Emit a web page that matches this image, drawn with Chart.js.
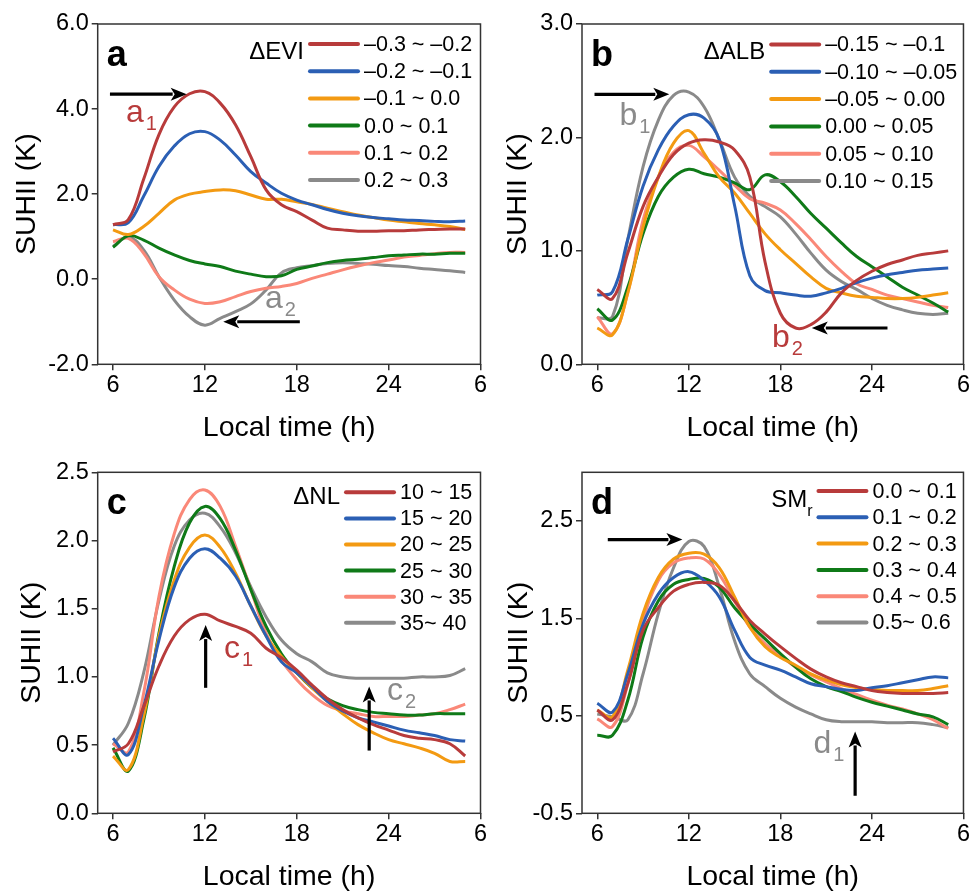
<!DOCTYPE html>
<html>
<head>
<meta charset="utf-8">
<script src="https://cdn.jsdelivr.net/npm/chart.js@4.4.0/dist/chart.umd.min.js"></script>
<style>
  html, body { margin: 0; padding: 0; background: #fff; overflow: hidden; }
  #wrap { position: relative; width: 971px; height: 892px; }
  canvas { position: absolute; }
</style>
</head>
<body>
<div id="wrap">
  <canvas id="pa" width="490" height="442" style="left:0;top:0"></canvas>
  <canvas id="pb" width="481" height="442" style="left:490px;top:0"></canvas>
  <canvas id="pc" width="490" height="448" style="left:0;top:443px"></canvas>
  <canvas id="pd" width="481" height="448" style="left:490px;top:443px"></canvas>
</div>
<script>
// local time, hourly from 6 h to 5 h next day
var hours = [6,7,8,9,10,11,12,13,14,15,16,17,18,19,20,21,22,23,24,25,26,27,28,29];
var xTicks = [6, 12, 18, 24, 30];
var xTickLabels = ['6', '12', '18', '24', '6'];

// a: ΔEVI
var eviLabels = ['–0.3 ~ –0.2', '–0.2 ~ –0.1', '–0.1 ~ 0.0', '0.0 ~ 0.1', '0.1 ~ 0.2', '0.2 ~ 0.3'];
var evi1 = [1.28, 1.40, 2.35, 3.40, 4.05, 4.36, 4.41, 4.14, 3.63, 2.88, 2.10, 1.75, 1.59, 1.39, 1.20, 1.16, 1.13, 1.13, 1.14, 1.14, 1.16, 1.17, 1.18, 1.18];
var evi2 = [1.28, 1.33, 1.95, 2.65, 3.13, 3.42, 3.47, 3.27, 2.92, 2.53, 2.26, 2.02, 1.86, 1.75, 1.64, 1.55, 1.49, 1.45, 1.42, 1.39, 1.38, 1.36, 1.35, 1.37];
var evi3 = [1.16, 1.05, 1.24, 1.55, 1.86, 2.00, 2.06, 2.10, 2.08, 1.98, 1.88, 1.88, 1.82, 1.76, 1.67, 1.59, 1.51, 1.45, 1.39, 1.35, 1.31, 1.28, 1.24, 1.17];
var evi4 = [0.75, 1.02, 0.92, 0.73, 0.57, 0.44, 0.36, 0.30, 0.19, 0.12, 0.06, 0.08, 0.23, 0.31, 0.39, 0.44, 0.47, 0.51, 0.55, 0.57, 0.59, 0.59, 0.61, 0.61];
var evi5 = [0.88, 0.96, 0.61, 0.06, -0.25, -0.47, -0.57, -0.53, -0.41, -0.29, -0.21, -0.17, -0.10, 0.02, 0.12, 0.22, 0.31, 0.39, 0.45, 0.52, 0.56, 0.60, 0.63, 0.63];
var evi6 = [0.77, 0.99, 0.69, 0.06, -0.49, -0.88, -1.08, -0.92, -0.76, -0.58, -0.25, 0.15, 0.27, 0.32, 0.37, 0.39, 0.37, 0.35, 0.32, 0.30, 0.26, 0.23, 0.20, 0.16];
var eviTicks = [-2, 0, 2, 4, 6];

// b: ΔALB
var albLabels = ['–0.15 ~ –0.1', '–0.10 ~ –0.05', '–0.05 ~ 0.00', '0.00 ~ 0.05', '0.05 ~ 0.10', '0.10 ~ 0.15'];
var alb1 = [0.66, 0.58, 0.98, 1.39, 1.65, 1.85, 1.95, 1.98, 1.96, 1.89, 1.65, 0.90, 0.45, 0.32, 0.35, 0.46, 0.63, 0.74, 0.82, 0.88, 0.92, 0.96, 0.98, 1.00];
var alb2 = [0.61, 0.64, 1.10, 1.57, 1.89, 2.10, 2.20, 2.17, 1.98, 1.40, 0.78, 0.65, 0.63, 0.61, 0.60, 0.63, 0.67, 0.72, 0.76, 0.79, 0.81, 0.83, 0.84, 0.85];
var alb3 = [0.32, 0.26, 0.63, 1.21, 1.65, 1.95, 2.06, 1.86, 1.65, 1.51, 1.33, 1.15, 1.01, 0.89, 0.77, 0.67, 0.63, 0.60, 0.59, 0.58, 0.58, 0.59, 0.61, 0.63];
var alb4 = [0.49, 0.39, 0.68, 1.15, 1.48, 1.65, 1.72, 1.68, 1.65, 1.60, 1.54, 1.67, 1.61, 1.48, 1.33, 1.20, 1.07, 0.95, 0.86, 0.77, 0.68, 0.61, 0.54, 0.46];
var alb5 = [0.42, 0.27, 0.63, 1.27, 1.65, 1.87, 1.93, 1.83, 1.71, 1.58, 1.46, 1.42, 1.36, 1.24, 1.10, 0.95, 0.82, 0.71, 0.66, 0.61, 0.58, 0.55, 0.52, 0.50];
var alb6 = [0.41, 0.42, 1.10, 1.74, 2.15, 2.37, 2.40, 2.27, 1.98, 1.65, 1.48, 1.39, 1.30, 1.15, 0.98, 0.83, 0.73, 0.66, 0.58, 0.52, 0.48, 0.45, 0.44, 0.45];
var albTicks = [0, 1, 2, 3];

// c: ΔNL
var nlLabels = ['10 ~ 15', '15 ~ 20', '20 ~ 25', '25 ~ 30', '30 ~ 35', '35~ 40'];
var nl1 = [0.45, 0.51, 0.78, 1.08, 1.30, 1.42, 1.46, 1.41, 1.37, 1.32, 1.21, 1.14, 1.05, 0.94, 0.84, 0.76, 0.70, 0.65, 0.61, 0.57, 0.55, 0.54, 0.51, 0.42];
var nl2 = [0.55, 0.43, 0.78, 1.27, 1.66, 1.87, 1.94, 1.87, 1.74, 1.52, 1.30, 1.11, 1.03, 0.93, 0.82, 0.75, 0.70, 0.67, 0.64, 0.61, 0.59, 0.57, 0.54, 0.53];
var nl3 = [0.42, 0.32, 0.71, 1.30, 1.71, 1.95, 2.04, 1.95, 1.76, 1.52, 1.30, 1.15, 1.03, 0.92, 0.82, 0.73, 0.65, 0.59, 0.54, 0.51, 0.48, 0.44, 0.38, 0.38];
var nl4 = [0.48, 0.31, 0.68, 1.32, 1.81, 2.13, 2.25, 2.16, 1.93, 1.64, 1.37, 1.17, 1.03, 0.92, 0.84, 0.79, 0.76, 0.74, 0.73, 0.72, 0.72, 0.73, 0.73, 0.73];
var nl5 = [0.51, 0.45, 0.88, 1.59, 2.05, 2.30, 2.37, 2.25, 1.96, 1.64, 1.32, 1.12, 0.98, 0.87, 0.79, 0.75, 0.73, 0.71, 0.71, 0.71, 0.72, 0.73, 0.76, 0.80];
var nl6 = [0.50, 0.66, 1.03, 1.56, 1.96, 2.15, 2.20, 2.10, 1.91, 1.66, 1.44, 1.27, 1.17, 1.11, 1.03, 1.00, 0.99, 0.99, 0.99, 0.99, 1.00, 1.00, 1.01, 1.06];
var nlTicks = [0, 0.5, 1, 1.5, 2, 2.5];

// d: SMr
var smLabels = ['0.0 ~ 0.1', '0.1 ~ 0.2', '0.2 ~ 0.3', '0.3 ~ 0.4', '0.4 ~ 0.5', '0.5~ 0.6'];
var sm1 = [0.56, 0.46, 0.83, 1.38, 1.61, 1.78, 1.85, 1.87, 1.84, 1.68, 1.48, 1.34, 1.21, 1.09, 0.98, 0.90, 0.84, 0.80, 0.76, 0.74, 0.73, 0.73, 0.73, 0.74];
var sm2 = [0.63, 0.54, 0.93, 1.44, 1.75, 1.92, 1.98, 1.89, 1.72, 1.38, 1.10, 1.02, 0.97, 0.90, 0.83, 0.80, 0.77, 0.76, 0.79, 0.81, 0.84, 0.87, 0.90, 0.89];
var sm3 = [0.56, 0.49, 0.97, 1.55, 1.92, 2.11, 2.17, 2.16, 2.02, 1.72, 1.41, 1.21, 1.10, 1.02, 0.93, 0.87, 0.82, 0.79, 0.77, 0.76, 0.76, 0.76, 0.78, 0.81];
var sm4 = [0.30, 0.30, 0.66, 1.31, 1.68, 1.85, 1.90, 1.91, 1.82, 1.61, 1.44, 1.29, 1.14, 1.00, 0.88, 0.80, 0.75, 0.69, 0.64, 0.60, 0.56, 0.52, 0.49, 0.41];
var sm5 = [0.47, 0.39, 0.83, 1.48, 1.89, 2.07, 2.12, 2.11, 1.95, 1.68, 1.41, 1.24, 1.12, 1.00, 0.92, 0.85, 0.78, 0.72, 0.66, 0.61, 0.57, 0.52, 0.46, 0.37];
var sm6 = [0.52, 0.49, 0.46, 0.93, 1.55, 2.02, 2.29, 2.24, 1.82, 1.27, 0.93, 0.80, 0.68, 0.59, 0.52, 0.46, 0.44, 0.44, 0.44, 0.43, 0.43, 0.43, 0.41, 0.38];
var smTicks = [-0.5, 0.5, 1.5, 2.5];

var colors = ['#b83b3b', '#2b5fb4', '#f39a12', '#0f7a18', '#fa8878', '#8a8a8a'];
var RED = '#b83b3b', GRAY = '#8a8a8a';
var FONT = 'Arial, "Liberation Sans", Helvetica, sans-serif';

Chart.defaults.font.family = FONT;
Chart.defaults.color = '#000';

function toPts(vals) {
  return hours.map(function (h, i) { return { x: h, y: vals[i] }; });
}

function drawArrow(ctx, x1, y1, x2, y2) {
  var ang = Math.atan2(y2 - y1, x2 - x1), head = 16, half = 6.5;
  var bx = x2 - head * Math.cos(ang), by = y2 - head * Math.sin(ang);
  ctx.strokeStyle = '#000';
  ctx.fillStyle = '#000';
  ctx.lineWidth = 3.2;
  ctx.beginPath(); ctx.moveTo(x1, y1); ctx.lineTo(bx + 2 * Math.cos(ang), by + 2 * Math.sin(ang)); ctx.stroke();
  ctx.beginPath();
  ctx.moveTo(x2, y2);
  ctx.lineTo(bx + half * Math.sin(ang), by - half * Math.cos(ang));
  ctx.lineTo(bx + 4 * Math.cos(ang), by + 4 * Math.sin(ang));
  ctx.lineTo(bx - half * Math.sin(ang), by + half * Math.cos(ang));
  ctx.closePath(); ctx.fill();
}

// frame, panel letter, legend and arrows
var decor = {
  id: 'decor',
  afterDatasetsDraw: function (chart, args, o) {
    var ctx = chart.ctx, a = chart.chartArea;
    var xs = chart.scales.x, ys = chart.scales.y;
    ctx.save();
    ctx.strokeStyle = '#333';
    ctx.lineWidth = 1.5;
    ctx.strokeRect(a.left, a.top, a.right - a.left, a.bottom - a.top);

    ctx.fillStyle = '#000';
    ctx.font = 'bold 36px ' + FONT;
    ctx.textAlign = 'left'; ctx.textBaseline = 'alphabetic';
    ctx.fillText(o.letter, a.left + 9, a.top + 42);

    // legend
    var lx = a.right - o.lg.fromRight;
    chart.data.datasets.forEach(function (ds, i) {
      var y = a.top + o.lg.rowTop + i * o.lg.rowGap;
      ctx.strokeStyle = ds.borderColor; ctx.lineWidth = 4; ctx.lineCap = 'round';
      ctx.beginPath(); ctx.moveTo(lx, y); ctx.lineTo(lx + 48, y); ctx.stroke();
      ctx.fillStyle = '#000'; ctx.font = '21.5px ' + FONT;
      ctx.textAlign = 'left'; ctx.textBaseline = 'middle';
      ctx.fillText(ds.label, lx + 54, y + 1);
    });
    ctx.font = '24px ' + FONT;
    ctx.textBaseline = 'middle'; ctx.textAlign = 'right';
    var tx = lx - 6, ty = a.top + o.lg.titleDy;
    if (o.lg.sub) {
      ctx.font = '16px ' + FONT;
      var sw = ctx.measureText(o.lg.sub).width;
      ctx.fillText(o.lg.sub, tx, ty + 11);
      tx -= sw;
      ctx.font = '24px ' + FONT;
    }
    ctx.fillText(o.lg.title, tx, ty);

    // arrows and labels, placed in data units
    ctx.lineCap = 'butt';
    (o.arrows || []).forEach(function (r) {
      drawArrow(ctx, xs.getPixelForValue(r[0]), ys.getPixelForValue(r[1]), xs.getPixelForValue(r[2]), ys.getPixelForValue(r[3]));
    });
    (o.notes || []).forEach(function (n) {
      var px = xs.getPixelForValue(n.x), py = ys.getPixelForValue(n.y);
      ctx.fillStyle = n.color; ctx.textAlign = 'left'; ctx.textBaseline = 'alphabetic';
      ctx.font = '32px ' + FONT;
      ctx.fillText(n.text, px, py);
      var w = ctx.measureText(n.text).width;
      ctx.font = '20px ' + FONT;
      ctx.fillText(n.sub, px + w + 2, py + 8);
    });
    ctx.restore();
  }
};

function makePanel(id, labels, series, yMin, yMax, yTicks, cfg) {
  var datasets = series.map(function (s, i) {
    return {
      label: labels[i], data: toPts(s), borderColor: colors[i], backgroundColor: colors[i],
      borderWidth: 3, pointRadius: 0, tension: 0.4, fill: false
    };
  });
  return new Chart(document.getElementById(id), {
    type: 'line',
    data: { datasets: datasets },
    plugins: [decor],
    options: {
      responsive: false, animation: false,
      layout: { padding: { left: 0, top: cfg.padTop, right: cfg.padRight, bottom: 0 } },
      plugins: {
        legend: { display: false }, tooltip: { enabled: false },
        decor: { letter: cfg.letter, lg: cfg.lg, arrows: cfg.arrows, notes: cfg.notes }
      },
      scales: {
        x: {
          type: 'linear', min: 5, max: 30,
          afterBuildTicks: function (s) { s.ticks = xTicks.map(function (v) { return { value: v }; }); },
          afterFit: function (s) { s.height = cfg.xH; },
          ticks: { font: { size: 23.5 }, padding: 1, maxRotation: 0, autoSkip: false,
            callback: function (v, i) { return xTickLabels[i]; } },
          grid: { drawOnChartArea: false, drawTicks: true, tickLength: 6, color: '#333', lineWidth: 1.5 },
          border: { display: false },
          title: { display: true, text: 'Local time (h)', font: { size: 28.5, lineHeight: 1 }, padding: { top: 0, bottom: 0 } }
        },
        y: {
          min: yMin, max: yMax,
          afterBuildTicks: function (s) { s.ticks = yTicks.map(function (v) { return { value: v }; }); },
          afterFit: function (s) { s.width = cfg.yW; },
          ticks: { font: { size: 23.5 }, padding: 3, autoSkip: false,
            callback: function (v) { return Number(v).toFixed(1); } },
          grid: { drawOnChartArea: false, drawTicks: true, tickLength: 6, color: '#333', lineWidth: 1.5 },
          border: { display: false },
          title: { display: true, text: 'SUHII (K)', font: { size: 28.5, lineHeight: 1 }, padding: { top: cfg.yTitlePad, bottom: 0 } }
        }
      }
    }
  });
}

makePanel('pa', eviLabels, [evi1, evi2, evi3, evi4, evi5, evi6], -2, 6, eviTicks, {
  letter: 'a', padTop: 24, padRight: 9.5, yW: 97.7, xH: 77.7, yTitlePad: 13,
  lg: { title: 'ΔEVI', fromRight: 170.5, rowTop: 20, rowGap: 27.2, titleDy: 28 },
  arrows: [[5.8, 4.35, 10.81, 4.35], [18.2, -1.0, 13.2, -1.0]],
  notes: [{ text: 'a', sub: '1', x: 6.85, y: 3.70, color: RED }, { text: 'a', sub: '2', x: 15.92, y: -0.68, color: GRAY }]
});
makePanel('pb', albLabels, [alb1, alb2, alb3, alb4, alb5, alb6], 0, 3, albTicks, {
  letter: 'b', padTop: 24, padRight: 6, yW: 92, xH: 77.7, yTitlePad: 13.5,
  lg: { title: 'ΔALB', fromRight: 192.3, rowTop: 20.5, rowGap: 27.3, titleDy: 28 },
  arrows: [[5.82, 2.38, 10.72, 2.38], [25.02, 0.32, 20.06, 0.32]],
  notes: [{ text: 'b', sub: '1', x: 7.45, y: 2.11, color: GRAY }, { text: 'b', sub: '2', x: 17.45, y: 0.155, color: RED }]
});
makePanel('pc', nlLabels, [nl1, nl2, nl3, nl4, nl5, nl6], 0, 2.5, nlTicks, {
  letter: 'c', padTop: 29.3, padRight: 9.5, yW: 97.7, xH: 77.7, yTitlePad: 18,
  lg: { title: 'ΔNL', fromRight: 134.5, rowTop: 20, rowGap: 26.1, titleDy: 25 },
  arrows: [[12.05, 0.92, 12.05, 1.38], [22.73, 0.46, 22.73, 0.93]],
  notes: [{ text: 'c', sub: '1', x: 13.25, y: 1.14, color: RED }, { text: 'c', sub: '2', x: 23.9, y: 0.83, color: GRAY }]
});
makePanel('pd', smLabels, [sm1, sm2, sm3, sm4, sm5, sm6], -0.5, 3.0, smTicks, {
  letter: 'd', padTop: 29.3, padRight: 6, yW: 92, xH: 77.7, yTitlePad: 14.5,
  lg: { title: 'SM', sub: 'r', fromRight: 145, rowTop: 18.7, rowGap: 26.3, titleDy: 28 },
  arrows: [[6.69, 2.31, 11.58, 2.31], [22.9, -0.32, 22.9, 0.34]],
  notes: [{ text: 'd', sub: '1', x: 20.17, y: 0.12, color: GRAY }]
});
</script>
</body>
</html>
